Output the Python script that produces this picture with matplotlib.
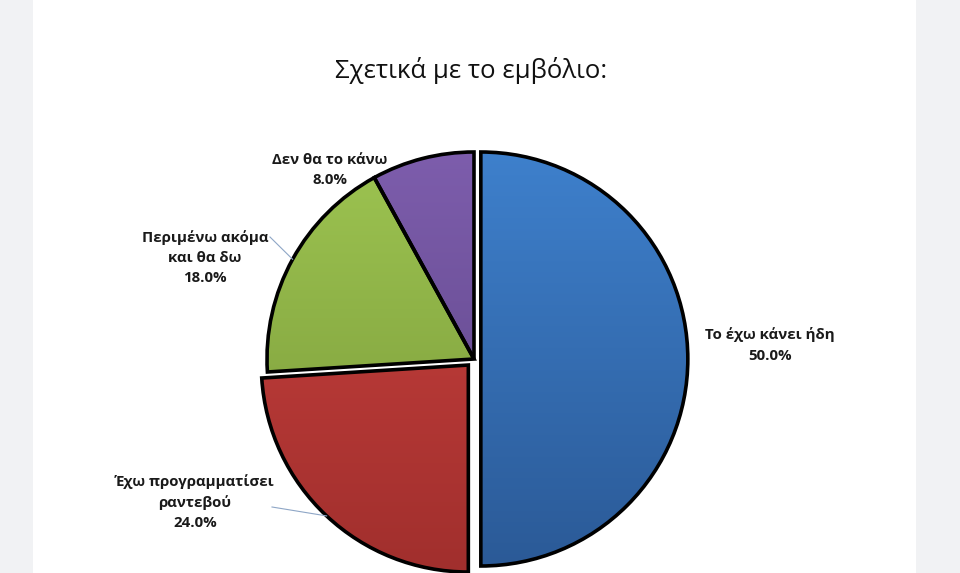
import matplotlib
matplotlib.use("Agg")
import matplotlib.pyplot as plt
import numpy as np
from matplotlib.patches import Rectangle
from matplotlib.colors import to_rgb

# ---- data ----
categories = ["Το έχω κάνει ήδη", "Έχω προγραμματίσει\nραντεβού", "Περιμένω ακόμα\nκαι θα δω", "Δεν θα το κάνω"]
values = [50.0, 24.0, 18.0, 8.0]
title = "Σχετικά με το εμβόλιο:"

# ---- style ----
top_colors = ["#3E80CC", "#CB423F", "#9DC451", "#7D5DAC"]
bottom_colors = ["#2B5A97", "#A12F2D", "#789738", "#5C4485"]
explode_frac = [0.033, 0.04, 0.0, 0.0]
label_offsets = [(296, 14), (-279, -143), (-269, 101), (-144, 189)]
leaders = [None, (-202, -148), (-204, 122), None]

W, H = 960, 573
fig = plt.figure(figsize=(W / 100, H / 100), dpi=100)
fig.patch.set_facecolor("#F1F2F4")
ax = fig.add_axes([0, 0, 1, 1])
ax.set_xlim(0, W)
ax.set_ylim(0, H)
ax.axis("off")
ax.add_patch(Rectangle((33, 0), 883, H, facecolor="white", edgecolor="none", zorder=0))

cx, cy, R = 474, 214, 207
fam = ["Open Sans", "DejaVu Sans"]

wedges, _ = ax.pie(values, startangle=90, counterclock=False, radius=R, center=(cx, cy),
                   explode=[f * R for f in explode_frac], colors=top_colors,
                   wedgeprops=dict(edgecolor="black", linewidth=2.6), frame=True)
for w in wedges:
    w.set_zorder(3)

# gradient fills clipped to wedges
n = 256
for w, ct, cb in zip(wedges, top_colors, bottom_colors):
    t = np.linspace(0, 1, n)[:, None]
    grad = (1 - t) * np.array(to_rgb(ct)) + t * np.array(to_rgb(cb))
    grad = grad[:, None, :]
    wx, wy = w.center
    im = ax.imshow(grad, extent=[wx - R, wx + R, wy - R, wy + R], origin="upper",
                   aspect="auto", zorder=2, interpolation="bilinear")
    im.set_clip_path(w)
    w.set_facecolor("none")

ax.set_xlim(0, W)
ax.set_ylim(0, H)
ax.set_aspect("auto")

for w, lab, v, off, ld in zip(wedges, categories, values, label_offsets, leaders):
    ax.text(cx + off[0], cy + off[1], f"{lab}\n{v:.1f}%", ha="center", va="center",
            fontsize=10.8, fontweight="bold", family=fam, color="#1a1a1a",
            linespacing=1.55, zorder=5)
    if ld is not None:
        thm = np.deg2rad(0.5 * (w.theta1 + w.theta2))
        wx, wy = w.center
        ex, ey = wx + R * np.cos(thm), wy + R * np.sin(thm)
        ax.plot([cx + ld[0], ex], [cy + ld[1], ey], color="#8EA6C6", lw=0.8, zorder=4)

ax.text(471, 503, title, ha="center", va="center", fontsize=18.5, family=fam, color="#111111")

fig.savefig("out.png", dpi=100, facecolor=fig.get_facecolor())
